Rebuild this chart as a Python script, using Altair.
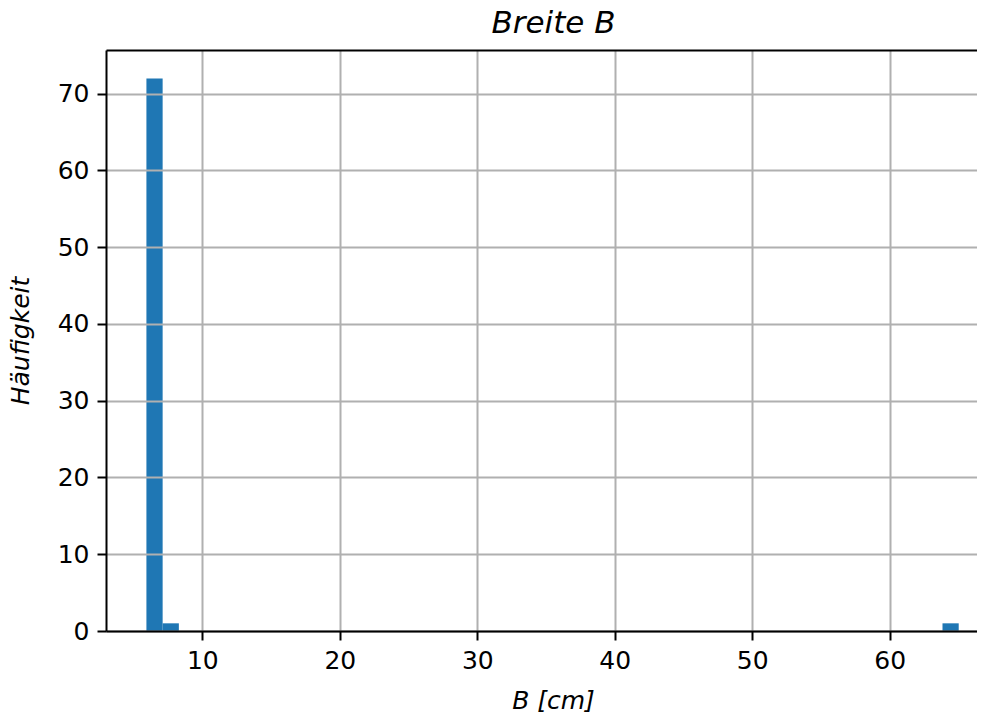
import altair as alt
import pandas as pd

# Histogram bins (only non-empty bins; 50 bins from 5.93 to 65.02)
bin_start = [5.93, 7.11, 63.84]
bin_end = [7.11, 8.29, 65.02]
counts = [72, 1, 1]

x_ticks = [10, 20, 30, 40, 50, 60]
y_ticks = [0, 10, 20, 30, 40, 50, 60, 70]

df = pd.DataFrame({"start": bin_start, "end": bin_end, "count": counts})

FONT = "DejaVu Sans"
x_scale = alt.Scale(domain=[2.99, 66.35], nice=False, zero=False)
y_scale = alt.Scale(domain=[0, 75.7], nice=False)

bars = alt.Chart(df).mark_bar(color="#1f77b4", opacity=1).encode(
    x=alt.X("start:Q", scale=x_scale,
            axis=alt.Axis(values=x_ticks, title="B [cm]", titleX=447,
                          titleFontStyle="italic", zindex=1)),
    x2="end:Q",
    y=alt.Y("count:Q", scale=y_scale,
            axis=alt.Axis(values=y_ticks, title="Häufigkeit",
                          titleFontStyle="italic", zindex=1)),
    y2=alt.datum(0),
)

top = alt.Chart(df).mark_bar(opacity=0).encode(
    x=alt.X("start:Q", scale=x_scale,
            axis=alt.Axis(orient="top", labels=False, ticks=False, grid=False,
                          domain=True, title=None, zindex=2)),
    x2="end:Q",
    y=alt.Y("count:Q", scale=y_scale, axis=None),
    y2=alt.datum(0),
)

chart = alt.layer(bars, top).resolve_axis(x="independent", y="independent").properties(
    width=871,
    height=581,
    autosize=alt.AutoSizeParams(type="none"),
    padding={"left": 98, "top": 42, "right": 0, "bottom": 84},
    title=alt.TitleParams("Breite B", font=FONT, fontSize=31, fontStyle="italic",
                          fontWeight="normal", color="black", dx=12, offset=-14,
                          baseline="alphabetic"),
).configure_view(stroke=None).configure_axis(
    labelFont=FONT, titleFont=FONT, labelFontSize=25, titleFontSize=25,
    titleFontWeight="normal", labelColor="black", titleColor="black",
    domainColor="black", domainWidth=2, tickColor="black", tickWidth=2,
    tickSize=9, labelPadding=8, gridColor="#b0b0b0", gridWidth=2,
    gridOpacity=1, grid=True,
).configure_axisX(titlePadding=15).configure_axisY(titlePadding=24)

chart.save("out.html", embed_options={"renderer": "svg", "actions": False})
